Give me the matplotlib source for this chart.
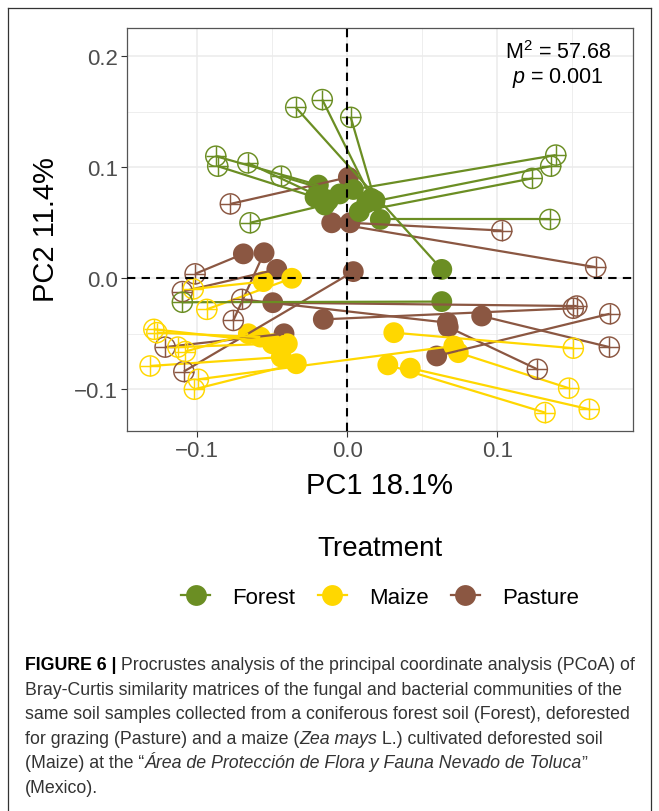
import matplotlib
matplotlib.use('Agg')
import matplotlib.pyplot as plt
from matplotlib.lines import Line2D
from matplotlib import font_manager

plt.rcParams['font.family'] = ['Liberation Sans', 'DejaVu Sans']
plt.rcParams['mathtext.fontset'] = 'custom'
plt.rcParams['mathtext.rm'] = 'Liberation Sans'
plt.rcParams['mathtext.it'] = 'Liberation Sans:italic'

# filled points (one ordination) and crossed points (the other), paired by index
forest_x = [-0.0193, -0.0215, -0.0127, -0.005, -0.015, 0.016, 0.0185, 0.063, 0.004, 0.013, 0.008, 0.022, 0.063]
forest_y = [0.084, 0.073, 0.070, 0.076, 0.066, 0.072, 0.070, 0.008, 0.080, 0.068, 0.060, 0.053, -0.021]
forest_cx = [-0.0877, -0.0864, -0.0664, -0.0442, -0.0649, -0.0167, 0.0023, -0.0344, 0.139, 0.1356, 0.1233, 0.135, -0.110]
forest_cy = [0.110, 0.101, 0.104, 0.092, 0.050, 0.161, 0.145, 0.154, 0.111, 0.101, 0.090, 0.053, -0.0216]

maize_x = [-0.056, -0.037, 0.031, 0.074, 0.027, 0.042, 0.071, -0.034, -0.044, -0.040, -0.058, -0.050, -0.066]
maize_y = [-0.003, 0.000, -0.049, -0.067, -0.078, -0.081, -0.061, -0.077, -0.071, -0.059, -0.053, -0.059, -0.050]
maize_cx = [-0.1027, -0.0937, 0.1507, 0.1476, 0.1318, 0.1613, -0.0993, -0.102, -0.1315, -0.129, -0.127, -0.113, -0.108]
maize_cy = [-0.0096, -0.028, -0.063, -0.099, -0.121, -0.118, -0.091, -0.100, -0.079, -0.046, -0.049, -0.062, -0.066]

pasture_x = [0.0007, 0.0018, -0.0104, -0.0693, -0.047, -0.0555, -0.0422, 0.004, 0.0896, 0.0596, 0.0673, 0.0667, -0.0497, -0.016]
pasture_y = [0.091, 0.050, 0.050, 0.022, 0.008, 0.023, -0.050, 0.006, -0.034, -0.070, -0.044, -0.040, -0.022, -0.037]
pasture_cx = [-0.078, 0.103, 0.1656, -0.1015, -0.110, -0.076, -0.1215, -0.109, 0.1747, 0.175, 0.1267, -0.0704, 0.153, 0.1507]
pasture_cy = [0.067, 0.043, 0.010, 0.004, -0.012, -0.038, -0.062, -0.084, -0.062, -0.032, -0.082, -0.019, -0.025, -0.027]

treatments = ['Forest', 'Maize', 'Pasture']
colors = {'Forest': '#6B8E23', 'Maize': '#FFD700', 'Pasture': '#8B5742'}

W, H = 659, 812
fig = plt.figure(figsize=(W / 100, H / 100), dpi=100)

def fx(px):
    return px / W

def fy(py):
    return 1 - py / H

ax = fig.add_axes([fx(127), fy(432), (633 - 127) / W, (432 - 29) / H])
ax.set_xlim(-0.1469, 0.1905)
ax.set_ylim(-0.1376, 0.2255)

# ggplot theme_bw look
ax.set_xticks([-0.1, 0.0, 0.1])
ax.set_xticklabels(['\u22120.1', '0.0', '0.1'])
ax.set_yticks([-0.1, 0.0, 0.1, 0.2])
ax.set_yticklabels(['\u22120.1', '0.0', '0.1', '0.2'])
ax.set_xticks([-0.05, 0.05, 0.15], minor=True)
ax.set_yticks([-0.05, 0.05, 0.15], minor=True)
ax.grid(which='major', color='#EBEBEB', lw=1.1, zorder=0)
ax.grid(which='minor', color='#EBEBEB', lw=0.6, zorder=0)
ax.set_axisbelow(True)
ax.tick_params(which='major', length=4, width=0.8, color='#333333', labelsize=16,
               labelcolor='#4D4D4D', pad=2.5)
ax.tick_params(which='minor', length=0)
for s in ax.spines.values():
    s.set_color('#555555')
    s.set_linewidth(0.9)

groups = [
    ('Pasture', pasture_x, pasture_y, pasture_cx, pasture_cy),
    ('Maize', maize_x, maize_y, maize_cx, maize_cy),
    ('Forest', forest_x, forest_y, forest_cx, forest_cy),
]

for name, xs, ys, cxs, cys in groups:
    c = colors[name]
    ax.scatter(xs, ys, s=225, color=c, edgecolors='none', zorder=2)
for name, xs, ys, cxs, cys in groups:
    c = colors[name]
    for a, b, p, q in zip(xs, ys, cxs, cys):
        ax.plot([a, p], [b, q], color=c, lw=1.6, zorder=3, solid_capstyle='butt')
for name, xs, ys, cxs, cys in groups:
    c = colors[name]
    ax.scatter(cxs, cys, s=210, facecolors='none', edgecolors=c, linewidths=1.05, zorder=4)
    ax.scatter(cxs, cys, s=210, marker='+', color=c, linewidths=1.05, zorder=4)

ax.axhline(0, color='black', lw=1.5, ls=(0, (4, 3)), zorder=5)
ax.axvline(0, color='black', lw=1.5, ls=(0, (4, 3)), zorder=5)

ax.text(0.1405, 0.2045, 'M$^{2}$ = 57.68', ha='center', va='center', fontsize=15.5, zorder=6)
ax.text(0.1405, 0.1815, '$p$ = 0.001', ha='center', va='center', fontsize=15.5, zorder=6)

fig.text(fx(380), fy(486), 'PC1 18.1%', ha='center', va='center', fontsize=21)
fig.text(fx(46), fy(230), 'PC2 11.4%', ha='center', va='center', fontsize=21, rotation=90)

# legend
fig.text(fx(380), fy(549), 'Treatment', ha='center', va='center', fontsize=20)
handles = [Line2D([0], [0], color=colors[t], lw=1.6, marker='o', markersize=15,
                  markeredgewidth=0) for t in treatments]
fig.legend(handles, treatments, loc='center', bbox_to_anchor=(fx(380), fy(598)), ncol=3,
           frameon=False, fontsize=16, handlelength=1.3, handletextpad=1.0,
           columnspacing=1.0)

# box around figure
box = dict(color='#333333', lw=0.9)
fig.add_artist(Line2D([fx(8), fx(8)], [fy(9), fy(812)], **box))
fig.add_artist(Line2D([fx(8), fx(651)], [fy(9), fy(9)], **box))
fig.add_artist(Line2D([fx(651), fx(651)], [fy(9), fy(812)], **box))

# caption
try:
    font_manager.findfont('Liberation Sans Narrow', fallback_to_default=False)
    cap_family = ['Liberation Sans Narrow', 'Liberation Sans']
except Exception:
    cap_family = ['Liberation Sans']

renderer = fig.canvas.get_renderer()

def text_w(s, size, weight='normal', style='normal'):
    t = fig.text(0, 0, '|' + s + '|', fontsize=size, fontweight=weight, fontstyle=style,
                 family=cap_family)
    w1 = t.get_window_extent(renderer=renderer).width
    t.remove()
    t = fig.text(0, 0, '||', fontsize=size, fontweight=weight, fontstyle=style,
                 family=cap_family)
    w2 = t.get_window_extent(renderer=renderer).width
    t.remove()
    return w1 - w2

cap_lines = [
    [('FIGURE 6 |', 'bold', 'normal', 'black'),
     (' Procrustes analysis of the principal coordinate analysis (PCoA) of', 'normal', 'normal', '#333333')],
    [('Bray-Curtis similarity matrices of the fungal and bacterial communities of the', 'normal', 'normal', '#333333')],
    [('same soil samples collected from a coniferous forest soil (Forest), deforested', 'normal', 'normal', '#333333')],
    [('for grazing (Pasture) and a maize (', 'normal', 'normal', '#333333'),
     ('Zea mays', 'normal', 'italic', '#333333'),
     (' L.) cultivated deforested soil', 'normal', 'normal', '#333333')],
    [('(Maize) at the \u201c', 'normal', 'normal', '#333333'),
     ('\u00c1rea de Protecci\u00f3n de Flora y Fauna Nevado de Toluca', 'normal', 'italic', '#333333'),
     ('\u201d', 'normal', 'normal', '#333333')],
    [('(Mexico).', 'normal', 'normal', '#333333')],
]

# size the caption so the first line spans the same width as the reference
base = 12
w_first = sum(text_w(s, base, wt, st) for s, wt, st, c in cap_lines[0])
cap_size = base * 613 / w_first
cap_size = min(cap_size, 13.5)

for i, segs in enumerate(cap_lines):
    x = 25
    yb = 670 + i * 24.6
    for s, wt, st, c in segs:
        fig.text(fx(x), fy(yb), s, fontsize=cap_size, fontweight=wt, fontstyle=st, color=c,
                 family=cap_family, ha='left', va='baseline')
        x += text_w(s, cap_size, wt, st)

fig.savefig('out.png', dpi=100)
